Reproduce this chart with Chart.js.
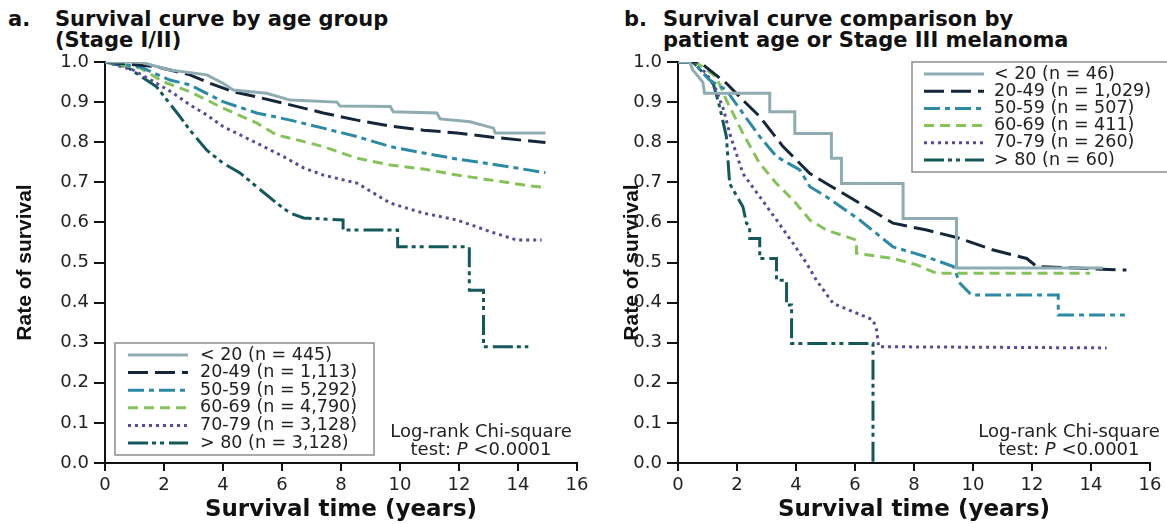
<!DOCTYPE html>
<html>
<head>
<meta charset="utf-8">
<script src="https://cdn.jsdelivr.net/npm/chart.js@4.4.1/dist/chart.umd.min.js"></script>
<style>
  body { margin: 0; background: #fff; width: 1167px; height: 524px; position: relative; overflow: hidden; }
  .ttl { position: absolute; font-family: "DejaVu Sans", sans-serif; font-weight: bold; font-size: 21px; line-height: 21px; color: #111; white-space: nowrap; }
  canvas { position: absolute; top: 0; }
</style>
</head>
<body>
<div class="ttl" style="left:8px;top:9px">a.</div>
<div class="ttl" style="left:55px;top:9px">Survival curve by age group<br>(Stage I/II)</div>
<div class="ttl" style="left:624px;top:9px">b.</div>
<div class="ttl" style="left:663px;top:9px">Survival curve comparison by<br>patient age or Stage III melanoma</div>
<canvas id="chartA" width="600" height="524" style="left:0"></canvas>
<canvas id="chartB" width="567" height="524" style="left:600px"></canvas>
<script>
// x axis ticks / y axis ticks
const xTicks = [0, 2, 4, 6, 8, 10, 12, 14, 16];
const yTicks = [0, 0.1, 0.2, 0.3, 0.4, 0.5, 0.6, 0.7, 0.8, 0.9, 1.0];

// 图 a: Stage I/II, [年, 生存率]
const groupsA = ['< 20 (n = 445)', '20-49 (n = 1,113)', '50-59 (n = 5,292)', '60-69 (n = 4,790)', '70-79 (n = 3,128)', '> 80 (n = 3,128)'];
const a_lt20 = [[0,1],[1.19,1],[2.2,0.98],[3.45,0.968],[4.0,0.947],[4.35,0.93],[5.48,0.922],[6.28,0.905],[7.86,0.9],[7.97,0.89],[9.67,0.889],[9.77,0.876],[11.25,0.873],[11.36,0.858],[12.38,0.851],[13.17,0.835],[13.23,0.823],[14.93,0.823]];
const a_20_49 = [[0,1],[1.75,0.988],[2.88,0.968],[3.56,0.947],[4.35,0.926],[5.14,0.913],[6.28,0.893],[7.4,0.873],[8.54,0.855],[9.67,0.84],[10.8,0.83],[11.93,0.823],[13.06,0.813],[14.93,0.799]];
const a_50_59 = [[0,1],[1.19,0.988],[2.2,0.955],[2.88,0.943],[4.0,0.901],[5.14,0.873],[6.28,0.855],[7.4,0.835],[8.54,0.814],[9.67,0.789],[10.8,0.773],[11.93,0.758],[13.06,0.746],[14.93,0.724]];
const a_60_69 = [[0,1],[1.19,0.985],[1.97,0.951],[2.88,0.926],[4.0,0.885],[5.14,0.848],[5.82,0.818],[6.28,0.81],[7.4,0.789],[8.54,0.76],[9.67,0.743],[10.8,0.733],[11.93,0.718],[13.06,0.706],[14.2,0.693],[14.93,0.687]];
const a_70_79 = [[0,1],[0.96,0.98],[1.75,0.947],[2.32,0.922],[2.88,0.893],[3.45,0.868],[4.0,0.839],[5.14,0.798],[6.05,0.764],[6.73,0.736],[7.4,0.718],[8.54,0.698],[9.67,0.648],[10.8,0.623],[11.93,0.606],[13.06,0.577],[13.96,0.556],[14.8,0.556]];
const a_gt80 = [[0,1],[0.74,0.988],[1.75,0.938],[2.54,0.864],[2.88,0.83],[3.45,0.78],[4.0,0.748],[4.58,0.723],[5.14,0.689],[5.82,0.648],[6.28,0.623],[6.73,0.611],[8.07,0.606],[8.07,0.581],[9.92,0.581],[9.92,0.539],[12.35,0.539],[12.35,0.431],[12.83,0.431],[12.83,0.29],[14.35,0.29]];

// 图 b: Stage III
const groupsB = ['< 20 (n = 46)', '20-49 (n = 1,029)', '50-59 (n = 507)', '60-69 (n = 411)', '70-79 (n = 260)', '> 80 (n = 60)'];
const b_lt20 = [[0,1],[0.4,1],[0.5,0.98],[0.84,0.95],[0.9,0.922],[3.11,0.922],[3.11,0.876],[3.96,0.876],[3.96,0.822],[5.2,0.822],[5.2,0.76],[5.54,0.76],[5.54,0.697],[7.63,0.697],[7.63,0.61],[9.44,0.61],[9.44,0.486],[14.4,0.486]];
const b_20_49 = [[0,1],[0.73,1],[1.64,0.947],[2.2,0.905],[2.77,0.864],[3.56,0.789],[4.47,0.722],[5.03,0.697],[6.16,0.648],[7.29,0.598],[8.43,0.581],[9.56,0.56],[10.69,0.531],[11.82,0.51],[12.16,0.49],[15.2,0.481]];
const b_50_59 = [[0,1],[0.5,1],[1.07,0.955],[1.64,0.93],[2.2,0.872],[2.77,0.814],[3.34,0.764],[4.13,0.731],[4.47,0.689],[5.03,0.664],[6.16,0.606],[7.29,0.539],[8.43,0.514],[9.33,0.49],[9.56,0.448],[9.95,0.419],[12.89,0.419],[12.89,0.369],[15.15,0.369]];
const b_60_69 = [[0,1],[0.6,1],[1.3,0.963],[1.64,0.905],[2.2,0.822],[2.77,0.747],[3.34,0.697],[3.9,0.656],[4.47,0.606],[5.03,0.581],[6.05,0.556],[6.05,0.523],[7.29,0.51],[8.09,0.494],[8.77,0.473],[13.97,0.473]];
const b_70_79 = [[0,1],[0.5,1],[0.96,0.972],[1.3,0.93],[1.55,0.88],[1.75,0.822],[2.2,0.722],[2.77,0.664],[3.34,0.606],[3.9,0.548],[4.36,0.498],[4.69,0.456],[5.26,0.398],[5.94,0.377],[6.61,0.357],[6.73,0.332],[6.8,0.29],[14.53,0.287]];
const b_gt80 = [[0,1],[0.5,1],[1.19,0.947],[1.41,0.889],[1.64,0.814],[1.75,0.697],[2.2,0.639],[2.32,0.598],[2.43,0.589],[2.43,0.56],[2.77,0.56],[2.77,0.51],[3.34,0.51],[3.34,0.456],[3.68,0.456],[3.68,0.394],[3.85,0.394],[3.85,0.298],[6.61,0.298],[6.61,0]];

// 线型 (颜色 / 虚线)
const lineStyles = [
  { color: '#8eacb1', dash: [] },
  { color: '#14273a', dash: [20, 7] },
  { color: '#2c8aa6', dash: [16, 5, 5, 5] },
  { color: '#86c25a', dash: [10, 6] },
  { color: '#5b4b96', dash: [3, 4] },
  { color: '#15585c', dash: [20, 4, 4, 4, 4, 5] }
];

const FONT = '"DejaVu Sans", sans-serif';

// 图例 + Log-rank 文本
const kmLegend = {
  id: 'kmLegend',
  afterDatasetsDraw(chart, args, opts) {
    const ctx = chart.ctx;
    ctx.save();
    ctx.fillStyle = '#fff';
    ctx.fillRect(opts.x, opts.y, opts.w, opts.h);
    ctx.strokeStyle = '#8c8c8c';
    ctx.lineWidth = 1.5;
    ctx.strokeRect(opts.x, opts.y, opts.w, opts.h);
    ctx.font = '17.5px ' + FONT;
    ctx.textBaseline = 'middle';
    chart.data.datasets.forEach((ds, i) => {
      const y = opts.firstRow + i * opts.rowGap;
      ctx.setLineDash(ds.borderDash);
      ctx.strokeStyle = ds.borderColor;
      ctx.lineWidth = ds.borderWidth;
      ctx.beginPath();
      ctx.moveTo(opts.lineX, y);
      ctx.lineTo(opts.lineX + 60, y);
      ctx.stroke();
      ctx.setLineDash([]);
      ctx.fillStyle = '#222';
      ctx.fillText(ds.label, opts.textX, y);
    });

    // Log-rank Chi-square test
    ctx.font = '18px ' + FONT;
    ctx.textAlign = 'center';
    ctx.fillText('Log-rank Chi-square', opts.noteX, opts.noteY);
    const parts = [['test: ', '18px ' + FONT], ['P', 'italic 18px ' + FONT], [' <0.0001', '18px ' + FONT]];
    let total = 0;
    parts.forEach(p => { ctx.font = p[1]; total += ctx.measureText(p[0]).width; });
    let x = opts.noteX - total / 2;
    ctx.textAlign = 'left';
    parts.forEach(p => {
      ctx.font = p[1];
      ctx.fillText(p[0], x, opts.noteY + 18);
      x += ctx.measureText(p[0]).width;
    });
    ctx.restore();
  }
};

function toDatasets(labels, series) {
  return series.map((pts, i) => ({
    label: labels[i],
    data: pts.map(p => ({ x: p[0], y: p[1] })),
    borderColor: lineStyles[i].color,
    borderDash: lineStyles[i].dash,
    borderWidth: 3,
    pointRadius: 0,
    tension: 0,
    fill: false
  }));
}

function createKmChart(canvasId, labels, series, layout, legendOpts) {
  const tickFont = { family: FONT, size: 18 };
  return new Chart(document.getElementById(canvasId), {
    type: 'line',
    data: { datasets: toDatasets(labels, series) },
    plugins: [kmLegend],
    options: {
      responsive: false,
      animation: false,
      layout: { padding: { top: 62, right: layout.right, left: 0, bottom: 0 } },
      plugins: {
        legend: { display: false },
        tooltip: { enabled: false },
        kmLegend: legendOpts
      },
      scales: {
        x: {
          type: 'linear',
          min: 0, max: 16,
          afterBuildTicks: s => { s.ticks = xTicks.map(v => ({ value: v })); },
          ticks: { font: tickFont, color: '#222', padding: 4, autoSkip: false, maxRotation: 0 },
          grid: { drawOnChartArea: false, tickLength: 8, color: '#111', lineWidth: 2 },
          border: { color: '#111', width: 2 },
          title: {
            display: true,
            text: 'Survival time (years)',
            color: '#111',
            font: { family: FONT, weight: 'bold', size: 23 },
            padding: { top: 0, bottom: 0 }
          },
          afterFit: s => { s.height = 61; }
        },
        y: {
          min: 0, max: 1,
          afterBuildTicks: s => { s.ticks = yTicks.map(v => ({ value: v })); },
          ticks: { font: tickFont, color: '#222', padding: 5, callback: v => v.toFixed(1) },
          grid: { drawOnChartArea: false, tickLength: 11, color: '#111', lineWidth: 2 },
          border: { color: '#111', width: 2 },
          title: {
            display: true,
            text: 'Rate of survival',
            color: '#111',
            font: { family: '"Liberation Sans", Arial, sans-serif', weight: 'bold', size: 21 },
            padding: { top: layout.titlePad, bottom: 0 }
          },
          afterFit: s => { s.width = layout.yWidth; }
        }
      }
    }
  });
}

createKmChart('chartA', groupsA, [a_lt20, a_20_49, a_50_59, a_60_69, a_70_79, a_gt80],
  { right: 23, yWidth: 105, titlePad: 13 },
  { x: 115, y: 343, w: 259, h: 112, firstRow: 355, rowGap: 17.6, lineX: 128, textX: 200, noteX: 481, noteY: 432 });

createKmChart('chartB', groupsB, [b_lt20, b_20_49, b_50_59, b_60_69, b_70_79, b_gt80],
  { right: 17, yWidth: 78, titlePad: 20 },
  { x: 312, y: 62, w: 257, h: 110, firstRow: 74, rowGap: 17.2, lineX: 324, textX: 394, noteX: 469, noteY: 432 });
</script>
</body>
</html>
